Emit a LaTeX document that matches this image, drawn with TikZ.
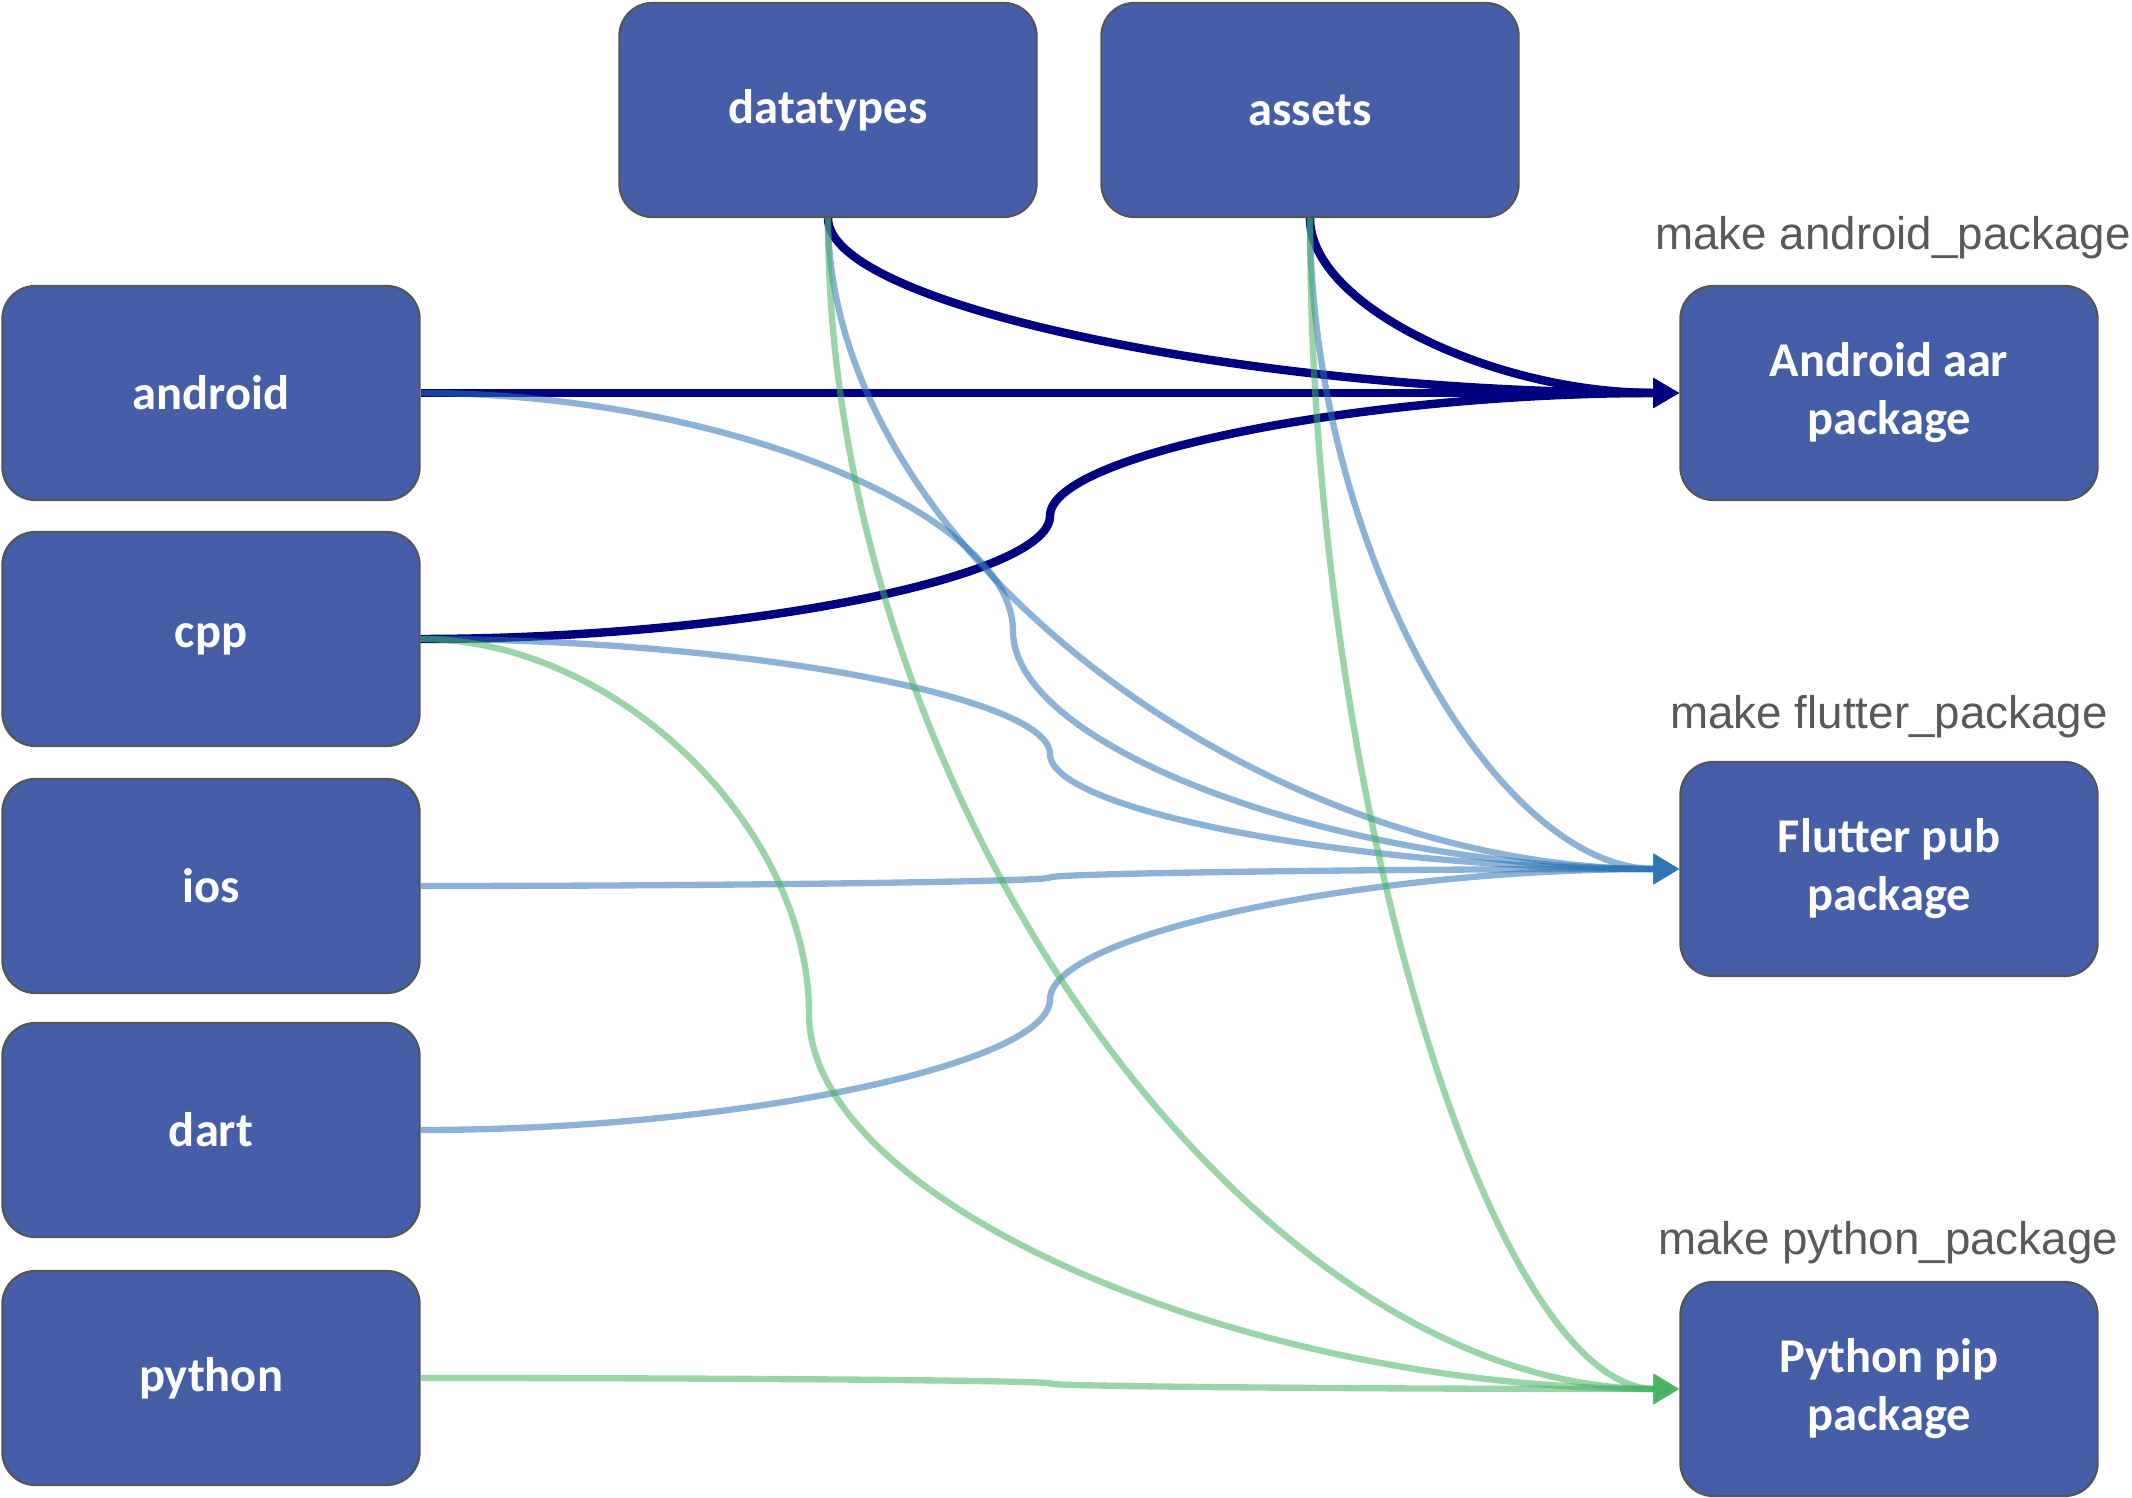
\documentclass[tikz,border=0pt]{standalone}
\usepackage{fontspec}
\setmainfont{Carlito}
\newfontfamily\cmdfont{Liberation Sans}
\usepackage{tikz}
\usetikzlibrary{arrows.meta, calc}
\definecolor{boxblue}{RGB}{69,94,167}
\definecolor{boxline}{RGB}{85,85,85}
\definecolor{aarnavy}{RGB}{0,0,128}
\definecolor{pubblue}{RGB}{46,117,182}
\definecolor{pipgreen}{RGB}{70,178,98}
\definecolor{cmdgray}{RGB}{89,89,89}

\begin{document}
\begin{tikzpicture}[
  x=0.01cm, y=-0.01cm,
  blk/.style={draw=boxline, line width=0.6pt, fill=boxblue, rounded corners=0.33cm, minimum width=4.17cm, minimum height=2.14cm, align=center, text=white, font=\fontsize{13.8}{16.5}\selectfont\bfseries},
  cmd/.style={font=\cmdfont\fontsize{13}{15}\selectfont, text=cmdgray},
  toaar/.style={draw=aarnavy, line width=2.4pt, -{Triangle[length=2.6mm, width=2.8mm]}},
  topub/.style={draw=pubblue, line width=1.8pt, opacity=0.55, -{Triangle[length=2.6mm, width=2.9mm]}},
  topip/.style={draw=pipgreen, line width=1.8pt, opacity=0.55, -{Triangle[length=2.6mm, width=2.9mm]}}
]
\useasboundingbox (0,0) rectangle (2132,1498);

\node[blk] (datatypes) at (828,110) {datatypes};
\node[blk] (assets) at (1310,110) {assets};

\node[blk] (android) at (211,393) {android};
\node[blk] (cpp) at (211,639) {cpp};
\node[blk] (ios) at (211,886) {ios};
\node[blk] (dart) at (211,1130) {dart};
\node[blk] (python) at (211,1378) {python};

\node[blk] (aar) at (1889,393) {Android aar\\package};
\node[blk] (pub) at (1889,869) {Flutter pub\\package};
\node[blk] (pip) at (1889,1389) {Python pip\\package};

\node[cmd] (mkaar) at (1893,238) {make android\_package};
\node[cmd] (mkpub) at (1889,717) {make flutter\_package};
\node[cmd] (mkpip) at (1888,1243) {make python\_package};

% android aar
\draw[toaar] (android.east) -- (aar.west);
\draw[toaar] (datatypes.south) .. controls +(0,88) and +(-426,0) .. (aar.west);
\draw[toaar] (assets.south) .. controls +(0,88) and +(-185,0) .. (aar.west);
\coordinate (k1) at ($(cpp.east)!.5!(aar.west)$);
\draw[toaar] (cpp.east) .. controls +(315,0) and +(0,62) .. (k1) .. controls +(0,-62) and +(-315,0) .. (aar.west);

% flutter pub
\coordinate (k2) at (1013,631);
\draw[topub] (android.east) .. controls +(297,0) and +(0,-119) .. (k2) .. controls +(0,119) and +(-333,0) .. (pub.west);
\coordinate (k3) at ($(cpp.east)!.5!(pub.west)$);
\draw[topub] (cpp.east) .. controls +(315,0) and +(0,-58) .. (k3) .. controls +(0,58) and +(-315,0) .. (pub.west);
\coordinate (k4) at ($(ios.east)!.5!(pub.west)$);
\draw[topub] (ios.east) .. controls +(315,0) and +(0,4) .. (k4) .. controls +(0,-4) and +(-315,0) .. (pub.west);
\coordinate (k5) at ($(dart.east)!.5!(pub.west)$);
\draw[topub] (dart.east) .. controls +(315,0) and +(0,65) .. (k5) .. controls +(0,-65) and +(-315,0) .. (pub.west);
\draw[topub] (datatypes.south) .. controls +(0,326) and +(-426,0) .. (pub.west);
\draw[topub] (assets.south) .. controls +(0,326) and +(-185,0) .. (pub.west);

% python pip
\draw[topip] (datatypes.south) .. controls +(0,586) and +(-426,0) .. (pip.west);
\draw[topip] (assets.south) .. controls +(0,586) and +(-185,0) .. (pip.west);
\coordinate (k6) at (809,1014);
\draw[topip] (cpp.east) .. controls +(195,0) and +(0,-188) .. (k6) .. controls +(0,188) and +(-435,0) .. (pip.west);
\coordinate (k7) at ($(python.east)!.5!(pip.west)$);
\draw[topip] (python.east) .. controls +(315,0) and +(0,-3) .. (k7) .. controls +(0,3) and +(-315,0) .. (pip.west);
\end{tikzpicture}
\end{document}
